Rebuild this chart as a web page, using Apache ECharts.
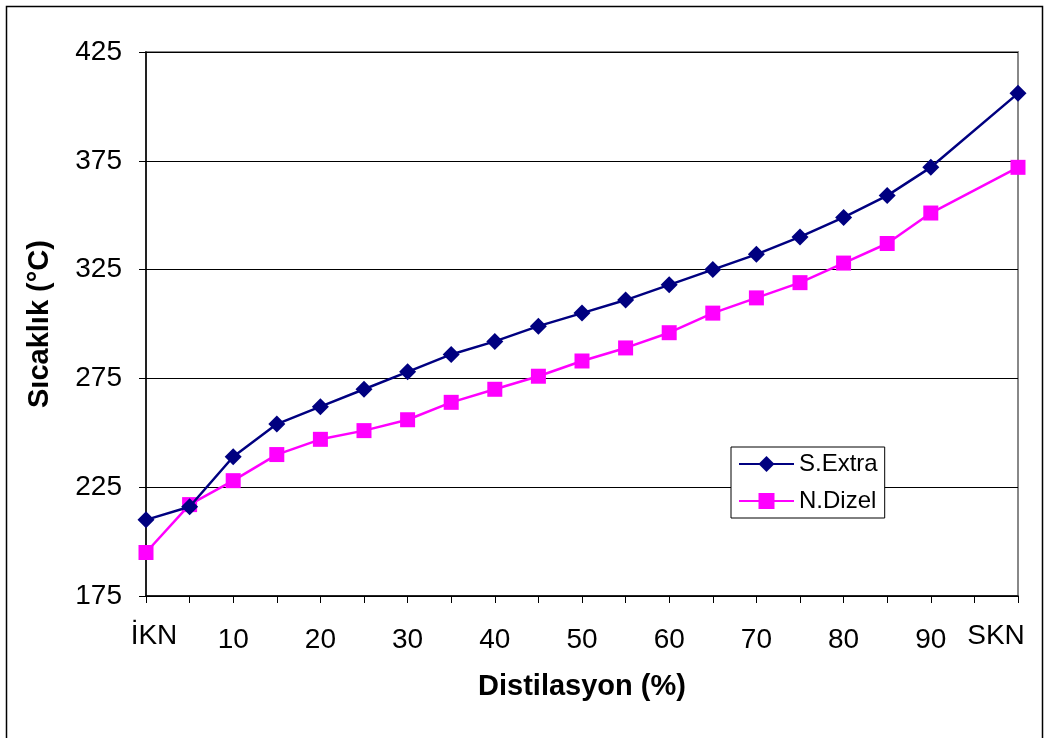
<!DOCTYPE html>
<html><head><meta charset="utf-8">
<script src="https://cdn.jsdelivr.net/npm/echarts@6/dist/echarts.min.js"></script>
<style>html,body{margin:0;padding:0;background:#fff}#c{width:1044px;height:738px}</style>
</head><body><div id="c"></div>
<script>
const categories = ['İKN','5','10','15','20','25','30','35','40','45','50','55','60','65','70','75','80','85','90','95','SKN'];
const sExtra = [210,216,239,254,262,270,278,286,292,299,305,311,318,325,332,340,349,359,372,null,406];
const nDizel = [195,217,228,240,247,251,256,264,270,276,283,289,296,305,312,319,328,337,351,null,372];
const yTicks = [175,225,275,325,375,425];

const chart = echarts.init(document.getElementById('c'));
const font = 'Liberation Sans, Arial, sans-serif';
chart.setOption({
  animation:false,
  graphic:[{type:'rect',shape:{x:6.5,y:6.5,width:1036,height:740},style:{fill:'none',stroke:'#000',lineWidth:1.5},z:-1}],
  grid:{left:146,right:26,top:52,bottom:142,show:true,borderColor:'#888',borderWidth:2,outerBoundsMode:'none',containLabel:false},
  legend:{
    left:731,top:447,orient:'vertical',
    borderColor:'#000',borderWidth:1,backgroundColor:'#fff',padding:[5,7,5,7],
    itemGap:13,itemWidth:55,itemHeight:20,
    textStyle:{fontFamily:font,fontSize:24,color:'#000',lineHeight:24},
    data:['S.Extra','N.Dizel']
  },
  xAxis:{
    type:'category',data:categories,boundaryGap:false,
    name:'Distilasyon (%)',nameLocation:'middle',nameGap:76,
    nameTextStyle:{fontFamily:font,fontSize:29,fontWeight:'bold',color:'#000'},
    axisLine:{lineStyle:{color:'#000',width:1.5}},
    axisTick:{show:true,alignWithLabel:true,interval:0,length:7,lineStyle:{color:'#000'}},
    axisLabel:{interval:1,fontFamily:font,fontSize:28,color:'#000',margin:24,
      formatter:function(v,i){return /^\d+$/.test(v)?'{n|'+v+'}':(i===0?'{a|'+v+'}':'{b|'+v+'}');},
      rich:{n:{fontFamily:font,fontSize:28,color:'#000',padding:[6,0,0,0]},
            a:{fontFamily:font,fontSize:28,color:'#000',padding:[2,0,0,16]},
            b:{fontFamily:font,fontSize:28,color:'#000',padding:[2,44,0,0]}}},
    splitLine:{show:false}
  },
  yAxis:{
    type:'value',min:yTicks[0],max:yTicks[yTicks.length-1],interval:50,
    name:'Sıcaklık (°C)',nameLocation:'middle',nameGap:92,
    nameTextStyle:{fontFamily:font,fontSize:29,fontWeight:'bold',color:'#000'},
    axisLine:{show:true,lineStyle:{color:'#000',width:1.5}},
    axisTick:{show:true,length:7,lineStyle:{color:'#000'}},
    axisLabel:{fontFamily:font,fontSize:28,color:'#000',margin:24},
    splitLine:{show:true,lineStyle:{color:'#000',width:1}}
  },
  series:[
    {name:'S.Extra',type:'line',data:sExtra,connectNulls:true,symbol:'diamond',symbolSize:17,
      lineStyle:{color:'#000080',width:2.5},itemStyle:{color:'#000080'},z:3},
    {name:'N.Dizel',type:'line',data:nDizel,connectNulls:true,symbol:'rect',symbolSize:15,
      lineStyle:{color:'#FF00FF',width:2.5},itemStyle:{color:'#FF00FF'},z:2}
  ]
});
</script></body></html>
